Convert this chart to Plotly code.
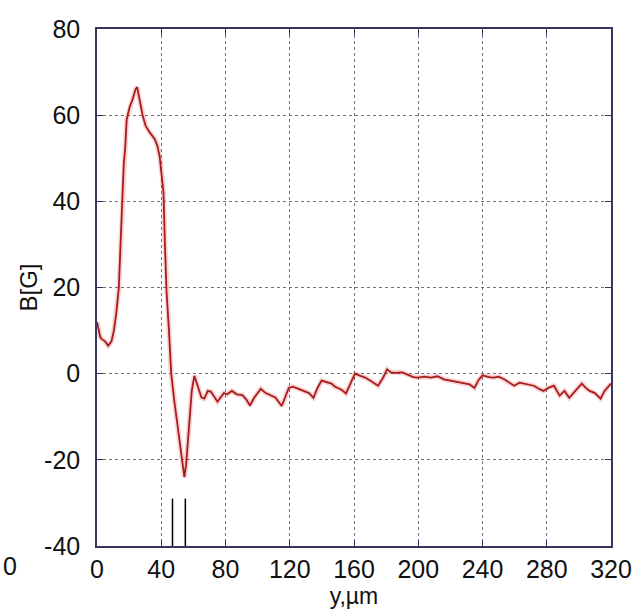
import plotly.graph_objects as go

# Data
y_um = [0, 1, 2, 3, 5, 7, 9, 10.5, 12, 13.6, 14.5, 15.5, 16.7, 17.5, 18.5, 20.4, 22, 24, 25, 26,
        28.4, 30.3, 32.8, 35.9, 37.5, 39, 40.8, 41.4, 42.2, 43.3, 44.8, 46.2, 48, 49.5, 51.3, 53,
        54.4, 55.5, 57.5, 59, 60.6, 62, 63.5, 65, 66.8, 69, 71, 73, 75, 77, 79, 81, 84, 87, 90.5,
        93, 95.2, 98, 102, 105, 108, 111, 115, 117, 119.4, 122, 125.5, 129, 132, 134.8, 137, 139.8,
        143, 146, 148, 150, 152.5, 155, 157, 160.6, 164, 167, 171, 175, 178, 180.6, 183, 185.5, 190,
        193.6, 197, 199.8, 204, 207.8, 212, 216, 220, 224, 228.8, 232, 235, 237.5, 240, 244, 247,
        250, 253.5, 257, 259.7, 263, 265.9, 269, 272, 275, 278, 281, 284.5, 288, 291, 294, 298,
        301.8, 304, 306.7, 310, 313.5, 316, 318.5, 320]
B_G = [12, 10, 8.5, 8, 7.5, 6.5, 7.5, 10, 14, 20, 27, 38, 49, 52, 59, 62, 63.5, 66, 66.5, 64.5,
       60, 57.5, 56, 54.5, 53, 50.5, 45, 42, 31, 19, 10, 0, -6, -10, -15.5, -20,
       -24, -21, -11.5, -4, -0.5, -2, -3.5, -5.5, -5.8, -4, -4.2, -5.5, -6.5, -5.5, -4.5, -4.8, -4, -4.8, -5,
       -6, -7.4, -5.5, -3.5, -4.5, -5, -5.5, -7.5, -5.5, -3.3, -3, -3.5, -4, -4.5, -5.6, -3.5, -1.6,
       -2, -2.3, -3, -3.3, -3.8, -4.6, -3, 0, -0.5, -0.9, -1.8, -2.8, -1, 1, 0.3, 0.2, 0.3,
       -0.2, -0.8, -0.9, -0.7, -0.9, -0.6, -1.3, -1.6, -1.8, -2.1, -2.5, -3.3, -1.5, -0.4, -0.8, -0.9,
       -0.7, -1.3, -2.2, -2.8, -2.1, -2.3, -2.6, -2.8, -3.5, -4, -3.3, -2.8, -5.1, -4, -5.6, -4,
       -2.3, -3.2, -4, -4.5, -5.8, -4, -2.8, -2.3]

marker_x = [47, 55]
marker_y = [-29, -40]

x_ticks = [0, 40, 80, 120, 160, 200, 240, 280, 320]
y_ticks = [-40, -20, 0, 20, 40, 60, 80]
y_ticklabels = ["-40", "-20", "0", "20", "40", "60", "80"]

FONT = "Liberation Sans, Arial"

fig = go.Figure()
# glow
fig.add_trace(go.Scatter(x=y_um, y=B_G, mode="lines",
                         line=dict(color="rgba(230,80,80,0.25)", width=5),
                         hoverinfo="skip", showlegend=False))
fig.add_trace(go.Scatter(x=y_um, y=B_G, mode="lines",
                         line=dict(color="#a81c1c", width=1.8), showlegend=False))
for mx in marker_x:
    fig.add_trace(go.Scatter(x=[mx, mx], y=marker_y, mode="lines",
                             line=dict(color="black", width=1.5), showlegend=False))

axis_common = dict(
    showline=True, linecolor="#35355e", linewidth=1.5, mirror="ticks",
    showgrid=True, gridcolor="#707080", griddash="dot", gridwidth=1,
    ticks="inside", ticklen=6, tickcolor="#35355e",
    zeroline=False,
    tickfont=dict(family=FONT, size=25, color="#111"),
)

fig.update_xaxes(range=[0, 320], tickvals=x_ticks, ticklabelstandoff=0, **axis_common,
                 title=dict(text="y,µm", font=dict(family=FONT, size=23, color="#111"),
                            standoff=2))
fig.update_yaxes(range=[-40, 80], tickvals=y_ticks, ticktext=y_ticklabels,
                 ticklabelstandoff=10, **axis_common,
                 title=dict(text="B[G]", font=dict(family=FONT, size=24, color="#111"),
                            standoff=0))

fig.add_annotation(text="0", xref="paper", yref="paper", x=-0.186, y=-0.07,
                   xanchor="left", showarrow=False,
                   font=dict(family=FONT, size=25, color="#111"))

fig.update_layout(
    width=644, height=613,
    margin=dict(l=97, r=30, t=29, b=67),
    paper_bgcolor="white", plot_bgcolor="white",
)

fig.write_html("out.html")
